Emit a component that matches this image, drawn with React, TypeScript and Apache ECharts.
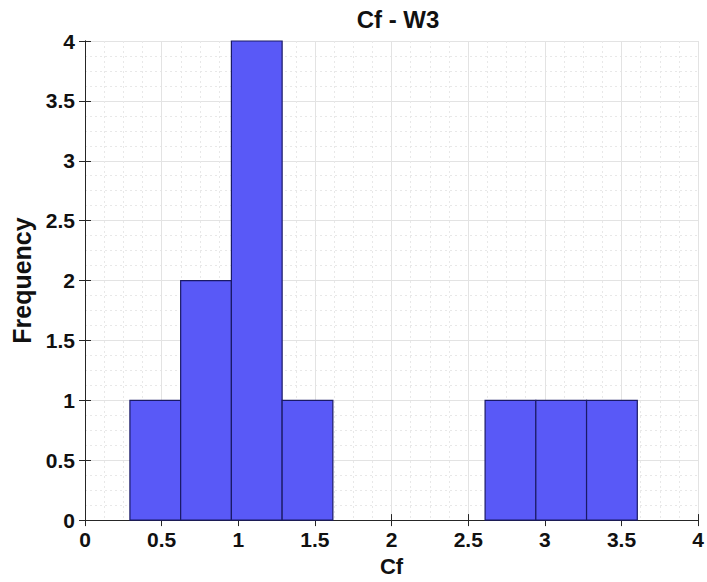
import React, { useEffect, useRef } from "react";
import * as echarts from "echarts";

const binEdges = [0.293, 0.624, 0.955, 1.286, 1.617, 1.948, 2.279, 2.61, 2.941, 3.272, 3.603];
const counts = [1, 2, 4, 1, 0, 0, 0, 1, 1, 1];
const titleText = "Cf - W3";
const xName = "Cf";
const yName = "Frequency";

const FONT = "'Liberation Sans', Arial, Helvetica, sans-serif";

export default function App() {
  const ref = useRef<HTMLDivElement>(null);
  useEffect(() => {
    if (!ref.current) return;
    const chart = echarts.init(ref.current, null, { renderer: "svg" });
    const data = counts.map((c, i) => [binEdges[i], binEdges[i + 1], c]);
    const axisColor = "#262626";
    const labelStyle = { fontFamily: FONT, fontWeight: "bold" as const, fontSize: 21, color: "#111" };
    chart.setOption({
      animation: false,
      backgroundColor: "#ffffff",
      title: {
        text: titleText,
        left: 393,
        textAlign: "center",
        top: 2,
        textStyle: { fontFamily: FONT, fontWeight: "bold", fontSize: 24, color: "#111" },
      },
      grid: { left: 85, right: 5, top: 41, bottom: 57, show: false },
      xAxis: [
        {
          type: "value",
          min: 0,
          max: 4,
          interval: 0.5,
          position: "bottom",
          name: xName,
          nameLocation: "middle",
          nameGap: 34,
          nameTextStyle: { fontFamily: FONT, fontWeight: "bold", fontSize: 22, color: "#111" },
          axisLine: { show: true, lineStyle: { color: axisColor, width: 1 } },
          axisTick: { show: true, inside: true, length: 6, lineStyle: { color: axisColor } },
          axisLabel: { ...labelStyle, margin: 9 },
          splitLine: { show: true, lineStyle: { color: "#e3e3e3", width: 1 } },
          minorTick: { show: false, splitNumber: 4 },
          minorSplitLine: { show: true, lineStyle: { color: "#e8e8e8", width: 1, type: [2, 3] } },
        },
        {
          type: "value",
          min: 0,
          max: 4,
          interval: 0.5,
          position: "top",
          axisLine: { show: true, lineStyle: { color: axisColor, width: 1 } },
          axisTick: { show: true, inside: true, length: 6, lineStyle: { color: axisColor } },
          axisLabel: { show: false },
          splitLine: { show: false },
        },
      ],
      yAxis: [
        {
          type: "value",
          min: 0,
          max: 4,
          interval: 0.5,
          position: "left",
          name: yName,
          nameLocation: "middle",
          nameGap: 48,
          nameRotate: 90,
          nameTextStyle: { fontFamily: FONT, fontWeight: "bold", fontSize: 25, color: "#111" },
          axisLine: { show: true, lineStyle: { color: axisColor, width: 1 } },
          axisTick: { show: true, inside: true, length: 6, lineStyle: { color: axisColor } },
          axisLabel: { ...labelStyle, margin: 10 },
          splitLine: { show: true, lineStyle: { color: "#e3e3e3", width: 1 } },
          minorTick: { show: false, splitNumber: 4 },
          minorSplitLine: { show: true, lineStyle: { color: "#e8e8e8", width: 1, type: [2, 3] } },
        },
        {
          type: "value",
          min: 0,
          max: 4,
          interval: 0.5,
          position: "right",
          axisLine: { show: true, lineStyle: { color: axisColor, width: 1 } },
          axisTick: { show: true, inside: true, length: 6, lineStyle: { color: axisColor } },
          axisLabel: { show: false },
          splitLine: { show: false },
        },
      ],
      series: [
        {
          type: "custom",
          xAxisIndex: 0,
          yAxisIndex: 0,
          data,
          encode: { x: [0, 1], y: 2 },
          renderItem: (params: any, api: any) => {
            const start = api.value(0);
            const end = api.value(1);
            const c = api.value(2);
            if (!c) return null;
            const p0 = api.coord([start, c]);
            const p1 = api.coord([end, 0]);
            return {
              type: "rect",
              shape: { x: p0[0], y: p0[1], width: p1[0] - p0[0], height: p1[1] - p0[1] },
              style: { fill: "#5959f7", stroke: "#1a1a66", lineWidth: 1.2 },
            };
          },
          z: 5,
        },
      ],
    });
    return () => chart.dispose();
  }, []);
  return <div ref={ref} style={{ width: 707, height: 582, position: "absolute", left: 0, top: 0 }} />;
}
